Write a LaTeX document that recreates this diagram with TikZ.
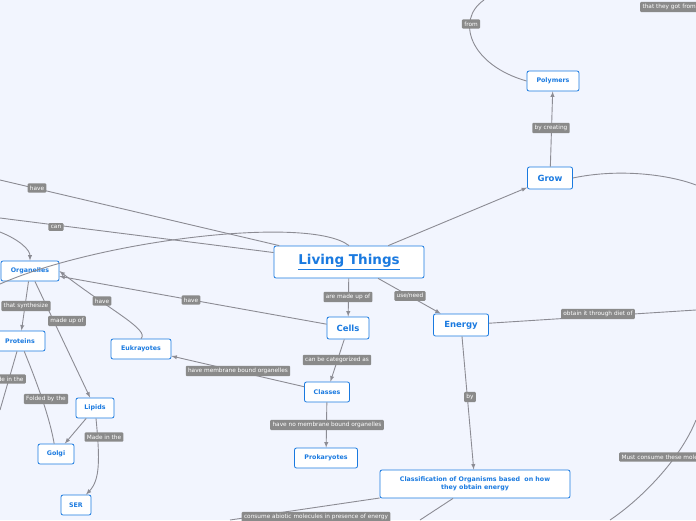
\documentclass[tikz,border=0pt]{standalone}
\usepackage{fontspec}
\setmainfont{DejaVu Sans}
\usetikzlibrary{positioning}
\definecolor{bg}{HTML}{F2F5FE}
\definecolor{topicblue}{HTML}{1A7AE0}
\definecolor{labelgray}{HTML}{8A8A8A}
\definecolor{linegray}{HTML}{8C8C94}
\begin{document}
\begin{tikzpicture}[x=1pt,y=-1pt]

          % Definitions
          \tikzstyle{topic} = [rectangle, rounded corners=2pt, draw=topicblue, thick, fill=white, text=topicblue, font=\fontsize{6.3}{7.5}\selectfont\bfseries, text centered, inner sep=0pt]
          \tikzstyle{lab} = [rectangle, rounded corners=1pt, fill=labelgray, text=white, font=\fontsize{5.8}{6.5}\selectfont, inner sep=2.3pt]
          \tikzstyle{arrow} = [linegray, line width=0.9pt, ->, >=latex]
          \tikzstyle{line} = [linegray, line width=0.9pt]

          \fill[bg] (0,0) rectangle (696,520);
          \clip (0,0) rectangle (696,520);

          \node (living) [topic, minimum width=150pt, minimum height=32pt, font=\fontsize{13.5}{15}\selectfont\bfseries] at (349,262) {\underline{Living Things}};
          \node (cells) [topic, minimum width=42pt, minimum height=22pt, font=\fontsize{8.5}{9}\selectfont\bfseries] at (348,328) {Cells};
          \node (energy) [topic, minimum width=55pt, minimum height=22pt, font=\fontsize{8.5}{9}\selectfont\bfseries] at (461,325) {Energy};
          \node (grow) [topic, minimum width=45pt, minimum height=22pt, font=\fontsize{8.5}{9}\selectfont\bfseries] at (550,178) {Grow};
          \node (polymers) [topic, minimum width=52pt, minimum height=20pt] at (553,81) {Polymers};
          \node (classes) [topic, minimum width=45pt, minimum height=20pt] at (327,392) {Classes};
          \node (prok) [topic, minimum width=63pt, minimum height=20pt] at (326,458) {Prokaryotes};
          \node (classif) [topic, minimum width=190pt, minimum height=28pt, align=center] at (475,484) {Classification of Organisms based\ \ on how\\they obtain energy};
          \node (organelles) [topic, minimum width=58pt, minimum height=20pt] at (30,271) {Organelles};
          \node (proteins) [topic, minimum width=50pt, minimum height=20pt] at (20,341) {Proteins};
          \node (eukr) [topic, minimum width=60pt, minimum height=20pt] at (141,349) {Eukrayotes};
          \node (lipids) [topic, minimum width=38pt, minimum height=20pt] at (95,408) {Lipids};
          \node (golgi) [topic, minimum width=36pt, minimum height=20pt] at (56,454) {Golgi};
          \node (ser) [topic, minimum width=30pt, minimum height=20pt] at (76,505) {SER};

          \coordinate (fromtop) at (484,0);
          \coordinate (leftA) at (0,180);
          \coordinate (leftB) at (0,218);
          \coordinate (leftC) at (0,284);
          \coordinate (leftD) at (0,232);
          \coordinate (leftF) at (0,410);
          \coordinate (rightA) at (696,310);
          \coordinate (rightB) at (696,185);
          \coordinate (rightC) at (696,420);
          \coordinate (botA) at (230,520);
          \coordinate (botB) at (420,520);
          \coordinate (botC) at (610,520);

          % main branches
          \draw [arrow] (living) -- (cells);
          \draw [arrow] (living) -- (energy);
          \draw [arrow] (living) -- (grow);
          \draw [arrow] (grow) -- (polymers);
          \draw [line] (polymers.west) .. controls (470,65) and (455,20) .. (fromtop);
          \draw [line] (grow.east) .. controls (620,168) and (670,175) .. (rightB);
          \draw [arrow] (cells) -- (classes);
          \draw [arrow] (classes) -- (prok);
          \draw [arrow] (classes) -- (eukr);
          \draw [arrow] (cells) -- (organelles);
          \draw [arrow] (eukr.north) .. controls (150,330) and (110,310) .. (organelles.east);
          \draw [arrow] (organelles) -- (proteins);
          \draw [arrow] (organelles) -- (lipids);
          \draw [arrow] (lipids) -- (golgi);
          \draw [arrow] (lipids) .. controls (100,460) and (100,480) .. (ser);
          \draw [line] (proteins) .. controls (40,390) and (50,420) .. (golgi);
          \draw [line] (proteins) -- (leftF);
          \draw [arrow] (energy) -- (classif);
          \draw [line] (energy) -- (rightA);
          \draw [line] (classif) -- (botA);
          \draw [line] (classif) -- (botB);
          \draw [line] (rightC) .. controls (680,460) and (640,500) .. (botC);
          \draw [line] (living) -- (leftA);
          \draw [line] (living) -- (leftB);
          \draw [line] (living.north) .. controls (310,215) and (100,240) .. (leftC);
          \draw [arrow] (leftD) .. controls (20,240) and (30,250) .. (organelles.north);

          % labels
          \node [lab] at (348,297) {are made up of};
          \node [lab] at (410,296) {use/need};
          \node [lab] at (191,300) {have};
          \node [lab] at (102,301) {have};
          \node [lab] at (26,306) {that synthesize};
          \node [lab] at (67,321) {made up of};
          \node [lab] at (337,360) {can be categorized as};
          \node [lab] at (238,371) {have membrane bound organelles};
          \node [lab] at (327,425) {have no membrane bound organelles};
          \node [lab] at (470,397) {by};
          \node [lab] at (598,314) {obtain it through diet of};
          \node [lab] at (551,128) {by creating};
          \node [lab] at (471,24) {from};
          \node [lab, anchor=west] at (640,7) {that they got from};
          \node [lab] at (46,399) {Folded by the};
          \node [lab] at (104,437) {Made in the};
          \node [lab, anchor=east] at (26,379) {Made in the};
          \node [lab] at (37,188) {have};
          \node [lab] at (56,227) {can};
          \node [lab, anchor=west] at (619,457) {Must consume these molecules};
          \node [lab] at (316,517) {consume abiotic molecules in presence of energy};

        \end{tikzpicture}
\end{document}
